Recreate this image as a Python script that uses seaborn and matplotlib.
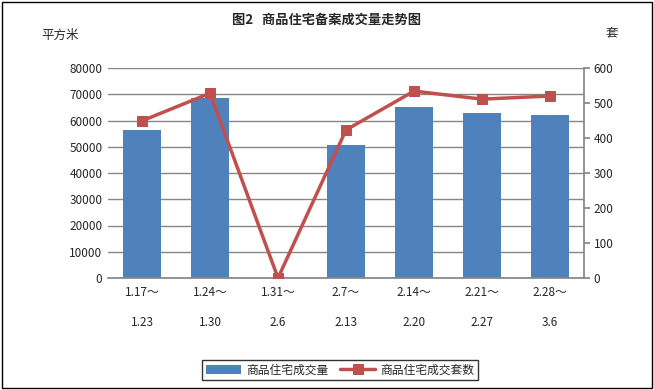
import matplotlib
matplotlib.use("Agg")
import matplotlib.pyplot as plt
import seaborn as sns
import pandas as pd
from matplotlib.patches import Rectangle

categories = ["1.17～\n\n1.23", "1.24～\n\n1.30", "1.31～\n\n2.6", "2.7～\n\n2.13",
              "2.14～\n\n2.20", "2.21～\n\n2.27", "2.28～\n\n3.6"]
area = [56400, 68600, 0, 50700, 65100, 62900, 62100]
units = [449, 528, 0, 423, 534, 511, 520]
left_ticks = [0, 10000, 20000, 30000, 40000, 50000, 60000, 70000, 80000]
right_ticks = [0, 100, 200, 300, 400, 500, 600]

sns.set_theme(style="white")
plt.rcParams['font.family'] = ['Noto Sans CJK SC', 'DejaVu Sans']

df = pd.DataFrame({"cat": categories, "area": area, "units": units,
                   "pos": list(range(len(categories)))})

fig = plt.figure(figsize=(6.54, 3.90), dpi=100)
ax = fig.add_axes([108/654, 1-278/390, (584-108)/654, (278-68)/390])

blue = "#4F81BD"
red = "#C0504D"

sns.barplot(data=df, x="cat", y="area", color=blue, width=0.56, ax=ax,
            saturation=1, label="商品住宅成交量", edgecolor="none", linewidth=0)
if ax.get_legend() is not None:
    ax.get_legend().remove()
ax.set_ylim(0, 80000)
ax.set_yticks(left_ticks)
ax.set_yticklabels([str(v) for v in left_ticks], fontsize=8.5)
ax.yaxis.grid(True, color="#868686", linewidth=1)
ax.set_axisbelow(True)
ax.set_xlim(-0.5, len(categories) - 0.5)
ax.set_xlabel("")
ax.set_ylabel("")
ax.tick_params(axis="x", length=0, pad=6, labelsize=8.5)
ax.tick_params(axis="y", length=0, pad=4)
for s in ["top", "left", "right"]:
    ax.spines[s].set_visible(False)
ax.spines["bottom"].set_color("#868686")

ax2 = ax.twinx()
sns.lineplot(data=df, x="pos", y="units", color=red, linewidth=2.5, marker="s",
             markersize=7, markeredgecolor=red, ax=ax2, label="商品住宅成交套数",
             legend=False)
ax2.set_ylim(0, 600)
ax2.set_yticks(right_ticks)
ax2.set_yticklabels([str(v) for v in right_ticks], fontsize=8.5)
ax2.set_ylabel("")
ax2.set_xlim(-0.5, len(categories) - 0.5)
ax2.tick_params(axis="y", length=4, direction="out", color="#868686", pad=3)
for s in ["top", "left", "bottom"]:
    ax2.spines[s].set_visible(False)
ax2.spines["right"].set_color("#868686")

fig.text(327/654, 1-20/390, "图2   商品住宅备案成交量走势图", ha="center", va="center",
         fontsize=9.5, fontweight="bold")
fig.text(60/654, 1-35/390, "平方米", ha="center", va="center", fontsize=9)
fig.text(612/654, 1-33/390, "套", ha="center", va="center", fontsize=9)

h1, l1 = ax.get_legend_handles_labels()
h2, l2 = ax2.get_legend_handles_labels()
leg = fig.legend(h1 + h2, l1 + l2, loc="center", bbox_to_anchor=(340/654, 1-370/390),
                 ncol=2, fontsize=8.5, frameon=True, fancybox=False,
                 borderpad=0.3, handlelength=3, columnspacing=1, handletextpad=0.4)
leg.get_frame().set_edgecolor("black")
leg.get_frame().set_linewidth(1)

fig.patches.append(Rectangle((2/654, 2/390), 650/654, 386/390, transform=fig.transFigure,
                             fill=False, edgecolor="black", linewidth=1))

fig.savefig("out.png", dpi=100)
